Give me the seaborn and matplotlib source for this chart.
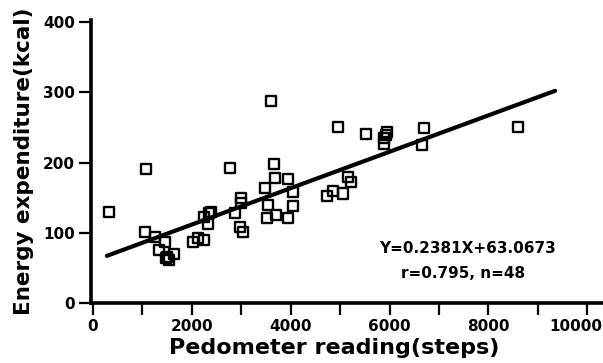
import numpy as np
import pandas as pd
import matplotlib
matplotlib.use("Agg")
import matplotlib.pyplot as plt
import matplotlib.transforms as mtransforms
import seaborn as sns

# Pedometer reading (steps) and measured energy expenditure (kcal)
steps = [324, 1073, 1053, 1255, 1457, 1336, 1478, 1540, 1640, 1500,
         2030, 2130, 2250, 2250, 2350, 2320, 2380, 2773, 3603, 3664,
         3684, 3947, 3482, 4049, 2996, 2996, 2874, 3543, 4049, 3704,
         3522, 3947, 2976, 3036, 4960, 5526, 5951, 5931, 5890, 5890,
         6700, 6660, 5162, 5223, 4737, 4858, 5061, 8603]
kcal = [130, 191, 101, 94, 87, 75, 64, 61, 70, 66,
        87, 93, 90, 122, 128, 113, 130, 192, 288, 198,
        178, 176, 164, 158, 149, 142, 128, 139, 138, 125,
        121, 121, 108, 101, 251, 240, 244, 239, 235, 226,
        249, 225, 179, 172, 152, 159, 156, 251]

# Fitted regression line as drawn
fit_slope = 0.0259
fit_intercept = 60.0
fit_x = [280, 9350]

eq_text = "Y=0.2381X+63.0673"
stat_text = "r=0.795, n=48"

x_ticks = list(range(0, 10001, 1000))
x_labels = [str(t) if t % 2000 == 0 else "" for t in x_ticks]
y_ticks = [0, 100, 200, 300, 400]

sns.set_style("ticks")
plt.rcParams["font.family"] = ["DejaVu Sans"]
plt.rcParams["text.color"] = "black"
plt.rcParams["axes.labelcolor"] = "black"
plt.rcParams["xtick.color"] = "black"
plt.rcParams["ytick.color"] = "black"

df = pd.DataFrame({"steps": steps, "kcal": kcal})
line_df = pd.DataFrame({"x": fit_x})
line_df["y"] = fit_slope * line_df["x"] + fit_intercept

fig = plt.figure(figsize=(6.03, 3.63), dpi=100)
ax = fig.add_axes([0.151, 0.165, 0.849, 0.78])

sns.scatterplot(data=df, x="steps", y="kcal", ax=ax, marker="s", s=52,
                facecolor="none", edgecolor="black", linewidth=1.7, zorder=3)
sns.lineplot(data=line_df, x="x", y="y", ax=ax, color="black", linewidth=3.0,
             zorder=2)

ax.set_xlim(-40, 10320)
ax.set_ylim(0, 403)
ax.set_xticks(x_ticks)
ax.set_xticklabels(x_labels)
ax.set_yticks(y_ticks)

for side in ["top", "right"]:
    ax.spines[side].set_visible(False)
for side in ["left", "bottom"]:
    ax.spines[side].set_linewidth(2.6)
    ax.spines[side].set_color("black")

ax.tick_params(axis="both", direction="out", length=8.5, width=1.6,
               color="black", labelcolor="black", labelsize=11, pad=3)
for lbl in ax.get_xticklabels() + ax.get_yticklabels():
    lbl.set_fontweight("bold")

# keep the last x tick label inside the figure
last = ax.get_xticklabels()[-1]
last.set_transform(last.get_transform() +
                   mtransforms.ScaledTranslation(-0.11, 0, fig.dpi_scale_trans))

ax.set_xlabel("Pedometer reading(steps)", fontsize=16, fontweight="bold")
ax.set_ylabel("Energy expenditure(kcal)", fontsize=15.5, fontweight="bold")
ax.xaxis.set_label_coords(0.475, -0.122)
ax.yaxis.set_label_coords(-0.112, 0.5)

ax.text(0.735, 0.194, eq_text, transform=ax.transAxes, ha="center",
        va="center", fontsize=11, fontweight="bold")
ax.text(0.726, 0.106, stat_text, transform=ax.transAxes, ha="center",
        va="center", fontsize=11, fontweight="bold")

fig.savefig("out.png", dpi=100)
